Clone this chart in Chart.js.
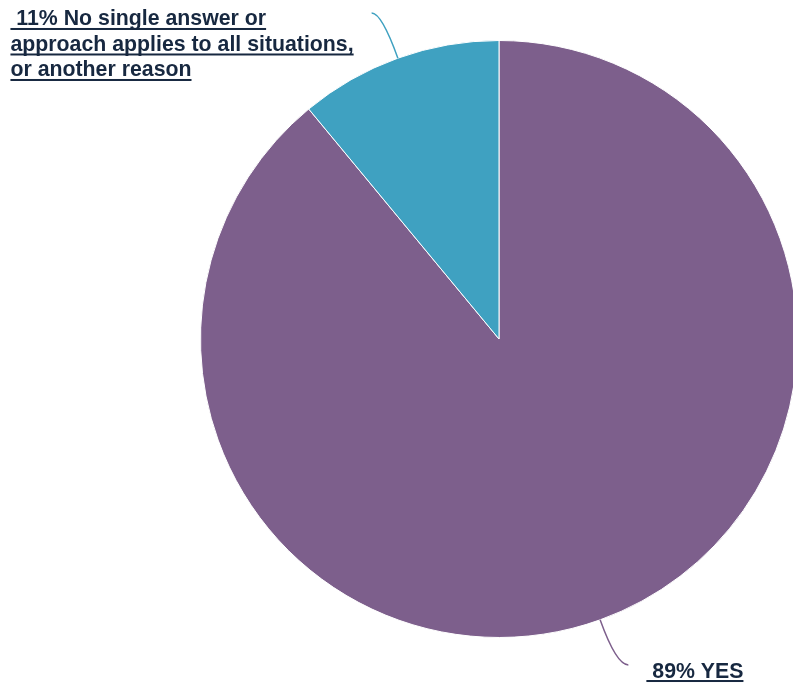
<!DOCTYPE html>
<html>
<head>
<meta charset="utf-8">
<script src="https://cdn.jsdelivr.net/npm/chart.js@4"></script>
<style>
  html, body { margin: 0; padding: 0; background: #fff; overflow: hidden; }
  #wrap { width: 801px; height: 684px; }
</style>
</head>
<body>
<div id="wrap"><canvas id="c" width="801" height="684"></canvas></div>
<script>
const categories = ['YES', 'No single answer or approach applies to all situations, or another reason'];
const values = [89, 11];
const colors = ['#7D5F8C', '#3FA1C1'];
const textColor = '#172840';
const labelFont = 'bold 21.3px "Liberation Sans", Arial, sans-serif';

// Greedy word wrap that keeps the label's leading space on the first line
function wrapWords(ctx, text, maxWidth) {
  const lead = text.startsWith(' ') ? ' ' : '';
  const words = text.trim().split(' ');
  const lines = [];
  let cur = lead + words[0];
  for (let k = 1; k < words.length; k++) {
    const test = cur + ' ' + words[k];
    if (ctx.measureText(test).width > maxWidth) {
      lines.push(cur);
      cur = words[k];
    } else {
      cur = test;
    }
  }
  lines.push(cur);
  return lines;
}

const leaderLabels = {
  id: 'leaderLabels',
  afterDraw(chart) {
    const ctx = chart.ctx;
    const meta = chart.getDatasetMeta(0);
    ctx.save();
    ctx.font = labelFont;
    meta.data.forEach((arc, i) => {
      const p = arc.getProps(['x', 'y', 'startAngle', 'endAngle', 'outerRadius'], true);
      const mid = (p.startAngle + p.endAngle) / 2;
      const cx = Math.cos(mid), cy = Math.sin(mid);
      const sx = p.x + p.outerRadius * cx, sy = p.y + p.outerRadius * cy;
      const kx = p.x + (p.outerRadius + 48) * cx, ky = p.y + (p.outerRadius + 48) * cy;
      const right = cx >= 0;
      const ex = kx + (right ? 12 : -10), ey = ky;

      ctx.strokeStyle = colors[i];
      ctx.lineWidth = 1.5;
      ctx.beginPath();
      ctx.moveTo(sx, sy);
      ctx.quadraticCurveTo(kx, ky, ex, ey);
      ctx.stroke();

      const text = ' ' + values[i] + '% ' + categories[i];
      const lines = wrapWords(ctx, text, 352);
      const widths = lines.map(l => ctx.measureText(l).width);
      const blockW = Math.max(...widths);
      const left = right ? ex + 18 : ex - 18 - blockW;
      ctx.fillStyle = textColor;
      ctx.textAlign = 'left';
      ctx.textBaseline = 'alphabetic';
      lines.forEach((l, j) => {
        const by = ey + 12.5 + j * 25.5;
        ctx.fillText(l, left, by);
        ctx.fillRect(left, by + 2.5, widths[j], 2);
      });
    });
    ctx.restore();
  }
};

new Chart(document.getElementById('c'), {
  type: 'pie',
  data: {
    labels: categories,
    datasets: [{
      data: values,
      backgroundColor: colors,
      borderColor: '#ffffff',
      borderWidth: 1
    }]
  },
  options: {
    responsive: false,
    animation: false,
    layout: { padding: { left: 200, right: 3, top: 40, bottom: 46 } },
    plugins: { legend: { display: false }, tooltip: { enabled: false } }
  },
  plugins: [leaderLabels]
});
</script>
</body>
</html>
